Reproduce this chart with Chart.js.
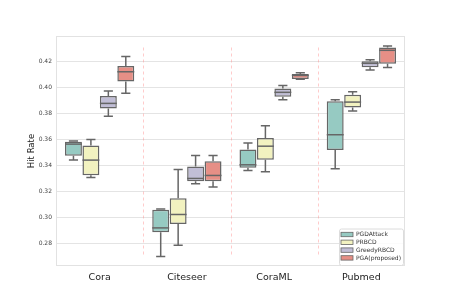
<!DOCTYPE html>
<html><head><meta charset="utf-8">
<script src="https://cdn.jsdelivr.net/npm/chart.js@4/dist/chart.umd.min.js"></script>
<style>html,body{margin:0;padding:0;background:#fff}#wrap{width:450px;height:300px}</style>
</head><body><div id="wrap"><canvas id="c" width="450" height="300"></canvas></div>
<script>
const categories = ['Cora', 'Citeseer', 'CoraML', 'Pubmed'];
const seriesNames = ['PGDAttack', 'PRBCD', 'GreedyRBCD', 'PGA(proposed)'];
// each entry: [min, q1, median, q3, max] for Cora, Citeseer, CoraML, Pubmed
const pgdAttack  = [[0.3444, 0.3477, 0.3567, 0.3585, 0.3590], [0.2703, 0.2890, 0.2923, 0.3062, 0.3069], [0.3365, 0.3385, 0.3408, 0.3526, 0.3575], [0.3377, 0.3521, 0.3639, 0.3897, 0.3908]];
const prbcd      = [[0.3311, 0.3328, 0.3444, 0.3557, 0.3603], [0.2790, 0.2952, 0.3026, 0.3151, 0.3372], [0.3354, 0.3446, 0.3551, 0.3613, 0.3708], [0.3821, 0.3849, 0.3890, 0.3947, 0.3969]];
const greedyRbcd = [[0.3782, 0.3841, 0.3880, 0.3936, 0.3975], [0.3262, 0.3282, 0.3303, 0.3395, 0.3480], [0.3908, 0.3931, 0.3965, 0.3995, 0.4018], [0.4136, 0.4157, 0.4188, 0.4203, 0.4215]];
const pgaProposed= [[0.3957, 0.4049, 0.4123, 0.4167, 0.4241], [0.3238, 0.3282, 0.3326, 0.3436, 0.3480], [0.4066, 0.4067, 0.4095, 0.4105, 0.4115], [0.4155, 0.4185, 0.4288, 0.4309, 0.4321]];
const yTicks = [0.28, 0.30, 0.32, 0.34, 0.36, 0.38, 0.40, 0.42];
const seriesStats = [pgdAttack, prbcd, greedyRbcd, pgaProposed];
const fillColors = ['#96cac2', '#f2f2c0', '#c1bed6', '#e68f86'];
const lineGray = '#666666';

const boxPlugin = {
  id: 'boxplot',
  beforeDatasetsDraw(chart) {
    const {ctx, chartArea: a, scales: {x, y}} = chart;
    ctx.save();
    // frame
    ctx.strokeStyle = '#e2e2e2';
    ctx.lineWidth = 1;
    ctx.strokeRect(a.left + 0.5, a.top + 0.5, a.right - a.left - 1, a.bottom - a.top - 1);
    // dashed separators
    ctx.strokeStyle = 'rgba(255,140,140,0.45)';
    ctx.setLineDash([3, 3]);
    const h = a.bottom - a.top;
    for (let i = 0; i < categories.length - 1; i++) {
      const px = Math.round((x.getPixelForValue(i) + x.getPixelForValue(i + 1)) / 2) + 0.5;
      ctx.beginPath();
      ctx.moveTo(px, a.bottom - 0.05 * h);
      ctx.lineTo(px, a.bottom - 0.95 * h);
      ctx.stroke();
    }
    ctx.setLineDash([]);
    // whiskers
    ctx.strokeStyle = lineGray;
    ctx.lineWidth = 1.5;
    chart.data.datasets.forEach((ds, d) => {
      const meta = chart.getDatasetMeta(d);
      meta.data.forEach((el, i) => {
        const s = ds.stats[i];
        const cx = el.x, cw = el.width * 0.27;
        const pMin = y.getPixelForValue(s[0]), pQ1 = y.getPixelForValue(s[1]);
        const pQ3 = y.getPixelForValue(s[3]), pMax = y.getPixelForValue(s[4]);
        ctx.beginPath();
        ctx.moveTo(cx, pQ1); ctx.lineTo(cx, pMin);
        ctx.moveTo(cx, pQ3); ctx.lineTo(cx, pMax);
        ctx.moveTo(cx - cw, pMin); ctx.lineTo(cx + cw, pMin);
        ctx.moveTo(cx - cw, pMax); ctx.lineTo(cx + cw, pMax);
        ctx.stroke();
      });
    });
    ctx.restore();
  },
  afterDatasetsDraw(chart) {
    const {ctx, scales: {y}} = chart;
    ctx.save();
    ctx.strokeStyle = lineGray;
    ctx.lineWidth = 1.5;
    chart.data.datasets.forEach((ds, d) => {
      const meta = chart.getDatasetMeta(d);
      meta.data.forEach((el, i) => {
        const s = ds.stats[i];
        const pm = y.getPixelForValue(s[2]);
        ctx.beginPath();
        ctx.moveTo(el.x - el.width / 2, pm);
        ctx.lineTo(el.x + el.width / 2, pm);
        ctx.stroke();
      });
    });
    ctx.restore();
  },
  afterDraw(chart) {
    const {ctx, chartArea: a} = chart;
    ctx.save();
    const bx = 339, by = 228.5, bw = 64, bh = 36.5;
    ctx.fillStyle = 'rgba(255,255,255,0.85)';
    ctx.strokeStyle = '#dcdcdc';
    ctx.lineWidth = 1;
    ctx.beginPath();
    ctx.roundRect(bx + 0.5, by + 0.5, bw, bh, 2);
    ctx.fill(); ctx.stroke();
    ctx.font = '6px "DejaVu Sans"';
    ctx.textBaseline = 'middle';
    chart.data.datasets.forEach((ds, d) => {
      const cy = by + 6 + d * 7.8;
      ctx.fillStyle = ds.backgroundColor;
      ctx.fillRect(341, cy - 2.2, 12, 4.4);
      ctx.strokeStyle = lineGray;
      ctx.lineWidth = 0.8;
      ctx.strokeRect(341, cy - 2.2, 12, 4.4);
      ctx.fillStyle = '#333';
      ctx.fillText(ds.label, 356, cy + 0.3);
    });
    ctx.restore();
  }
};

new Chart(document.getElementById('c'), {
  type: 'bar',
  data: {
    labels: categories,
    datasets: seriesNames.map((name, d) => ({
      label: name,
      stats: seriesStats[d],
      data: seriesStats[d].map(s => [s[1], s[3]]),
      backgroundColor: fillColors[d],
      borderColor: lineGray,
      borderWidth: 1.5,
      borderSkipped: false,
      categoryPercentage: 0.8,
      barPercentage: 0.97
    }))
  },
  plugins: [boxPlugin],
  options: {
    responsive: false,
    animation: false,
    devicePixelRatio: 1,
    layout: {padding: {left: 0, right: 45, top: 36, bottom: 0}},
    plugins: {legend: {display: false}, tooltip: {enabled: false}},
    scales: {
      x: {
        grid: {display: false, drawTicks: false},
        border: {display: false},
        ticks: {font: {family: 'DejaVu Sans', size: 9.5}, color: '#222', padding: 6},
        afterFit(s) { s.height = 34; }
      },
      y: {
        min: 0.263, max: 0.4398,
        grid: {color: '#e4e4e4', lineWidth: 1, drawTicks: false},
        border: {display: false},
        ticks: {font: {family: 'DejaVu Sans', size: 6}, color: '#444', padding: 4,
                callback: v => v.toFixed(2)},
        afterBuildTicks(s) { s.ticks = yTicks.map(v => ({value: v})); },
        afterFit(s) { s.width = 56; },
        title: {display: true, text: 'Hit Rate', font: {family: 'DejaVu Sans', size: 8.5}, color: '#222', padding: {top: 27, bottom: 0}}
      }
    }
  }
});
</script>
</body></html>
